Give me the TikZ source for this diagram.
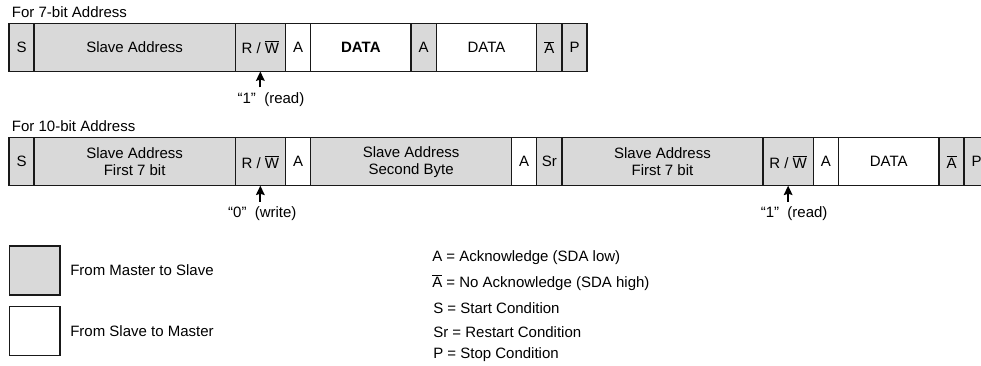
\documentclass[tikz,border=0pt]{standalone}
\usepackage{fontspec}
\setmainfont{Liberation Sans}
\usepackage{xcolor}
\usetikzlibrary{arrows.meta, positioning}

\newcommand{\ovl}[1]{$\overline{\mbox{#1}}$}

\begin{document}
\begin{tikzpicture}[
    x=0.75pt, y=-0.75pt,
    node distance = 0pt,
    field/.style = {
        rectangle, draw=black!90, line width=1pt,
        minimum height=36pt, inner sep=0pt, outer sep=0pt,
        font=\fontsize{11.25}{12.75}\selectfont, align=center
    },
    wd/.style     = {minimum width=#1*18.85pt},
    master/.style = {field, fill=gray!30},
    slave/.style  = {field, fill=white},
    note/.style   = {font=\fontsize{11.25}{13.5}\selectfont, inner sep=0pt},
    arr/.style    = {-{Stealth[length=7pt, width=6.5pt, inset=1pt]}, line width=1.3pt}
]
\useasboundingbox (0,0) rectangle (981,366);

%% 7-bit address frame
\node[master, wd=1, anchor=north west] (s1) at (9,23.5) {S};
\node[master, wd=8, right=of s1]  (sa1) {Slave Address};
\node[master, wd=2, right=of sa1] (rw1) {R / \ovl{W}};
\node[slave,  wd=1, right=of rw1] (a1)  {A};
\node[slave,  wd=4, right=of a1]  (d1)  {\textbf{DATA}};
\node[master, wd=1, right=of d1]  (a2)  {A};
\node[slave,  wd=4, right=of a2]  (d2)  {DATA};
\node[master, wd=1, right=of d2]  (na1) {\ovl{A}};
\node[master, wd=1, right=of na1] (p1)  {P};

\node[note, anchor=base west] (t7) at ([xshift=2pt, yshift=4.5pt]s1.north west) {For 7-bit Address};

%% 10-bit address frame
\node[master, wd=1, anchor=north west] (s2) at (9,137.7) {S};
\node[master, wd=8, right=of s2]  (sa2) {Slave Address\\First 7 bit};
\node[master, wd=2, right=of sa2] (rw2) {R / \ovl{W}};
\node[slave,  wd=1, right=of rw2] (a3)  {A};
\node[master, wd=8, right=of a3]  (sb2) {Slave Address\\Second Byte};
\node[slave,  wd=1, right=of sb2] (a4)  {A};
\node[master, wd=1, right=of a4]  (sr2) {Sr};
\node[master, wd=8, right=of sr2] (sa3) {Slave Address\\First 7 bit};
\node[master, wd=2, right=of sa3] (rw3) {R / \ovl{W}};
\node[slave,  wd=1, right=of rw3] (a5)  {A};
\node[slave,  wd=4, right=of a5]  (d3)  {DATA};
\node[master, wd=1, right=of d3]  (na2) {\ovl{A}};
\node[master, wd=1, right=of na2] (p2)  {P};

\node[note, anchor=base west] (t10) at ([xshift=2pt, yshift=4.5pt]s2.north west) {For 10-bit Address};

%% R/W markers
\coordinate (m1) at ([yshift=-12pt]rw1.south);
\coordinate (m2) at ([yshift=-12pt]rw2.south);
\coordinate (m3) at ([yshift=-12pt]rw3.south);
\node[note] (l1) at ([xshift=8pt,   yshift=-21pt]rw1.south) {“1”\ \ (read)};
\node[note] (l2) at ([xshift=1.5pt, yshift=-21pt]rw2.south) {“0”\ \ (write)};
\node[note] (l3) at ([xshift=4.5pt, yshift=-21pt]rw3.south) {“1”\ \ (read)};

%% Arrows
\draw[arr] (m1) -- (rw1.south);
\draw[arr] (m2) -- (rw2.south);
\draw[arr] (m3) -- (rw3.south);

%% Legend
\node[master, minimum width=38pt, minimum height=36.75pt] (lm) at (34.7,270.5) {};
\node[slave,  minimum width=38pt, minimum height=36.75pt] (ls) at (34.7,331.2) {};
\node[note, right=7.5pt of lm] (lmt) {From Master to Slave};
\node[note, right=7.5pt of ls] (lst) {From Slave to Master};

\node[note, anchor=west] (k1) at (432,258) {A = Acknowledge (SDA low)};
\node[note, anchor=west] (k2) at (432,283) {\ovl{A} = No Acknowledge (SDA high)};
\node[note, anchor=west] (k3) at (433,308) {S = Start Condition};
\node[note, anchor=west] (k4) at (433,332) {Sr = Restart Condition};
\node[note, anchor=west] (k5) at (433,355) {P = Stop Condition};

\end{tikzpicture}
\end{document}
